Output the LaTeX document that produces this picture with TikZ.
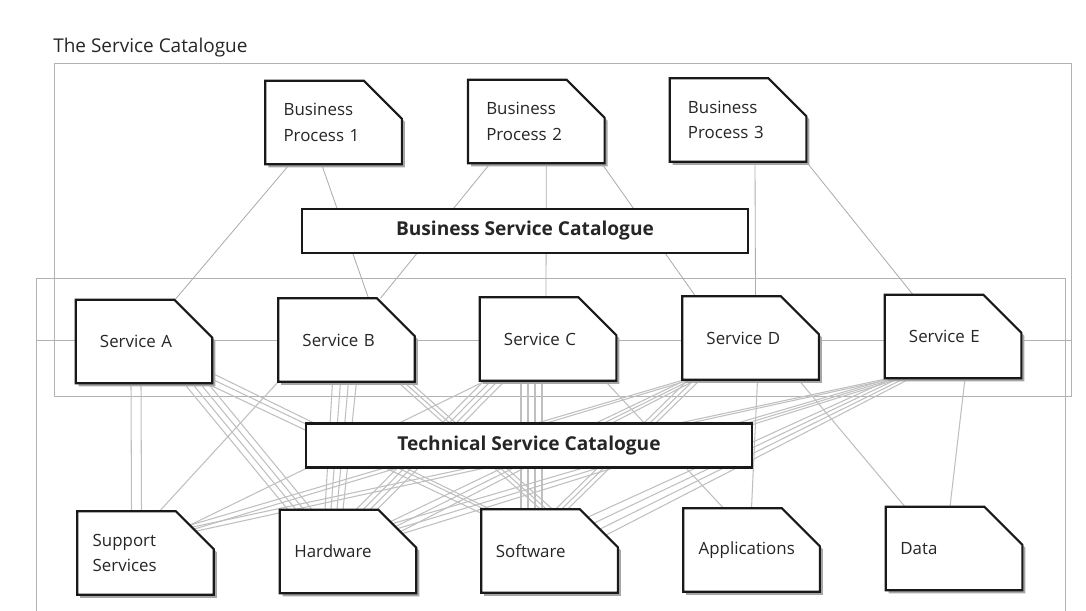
\documentclass[tikz,border=0pt]{standalone}
\usepackage{fontspec}
\setmainfont{Open Sans}
\usepackage{tikz}
\usetikzlibrary{calc}

\pgfdeclarelayer{bg}
\pgfdeclarelayer{shapes}
\pgfsetlayers{bg,shapes,main}

\tikzset{
  doc/.style={minimum width=3.4cm, minimum height=2.075cm, inner sep=0pt, inner xsep=0.45cm,
    text width=2.5cm, align=left, font=\fontsize{12}{18}\selectfont, text=black!85},
  svc/.style={doc, inner xsep=0.6cm, text width=2.2cm},
  catbox/.style={draw=black!90, line width=1.6pt, fill=white, minimum width=11.15cm,
    minimum height=1.1cm, font=\bfseries\fontsize{13.6}{16}\selectfont, text=black!85},
  bizlink/.style={black!32, line width=0.6pt},
  techlink/.style={black!25, line width=0.75pt},
  frame/.style={black!30, line width=0.5pt},
}

\begin{document}
\begin{tikzpicture}[x=0.025cm, y=-0.025cm]
    \useasboundingbox (0,0) rectangle (1086,611);

    \node[anchor=base west, inner xsep=0pt, font=\fontsize{13.5}{16}\selectfont, text=black!85] (title) at (53,53) {The Service Catalogue};

    % business processes
    \node[doc] (bp1) at (333.6,122.5) {Business\\Process 1};
    \node[doc] (bp2) at (536.3,121.5) {Business\\Process 2};
    \node[doc] (bp3) at (738,120) {Business\\Process 3};

    % services
    \node[svc] (sa) at (144,341.5) {Service A};
    \node[svc] (sb) at (346.5,340) {Service B};
    \node[svc] (sc) at (548,339) {Service C};
    \node[svc] (sd) at (750.5,338) {Service D};
    \node[svc] (se) at (953,336.5) {Service E};

    % technical components
    \node[doc, inner xsep=0.38cm, text width=2.64cm] (ss) at (145.5,553) {Support\\Services};
    \node[doc, inner xsep=0.36cm, text width=2.68cm] (hw) at (348,551.5) {Hardware};
    \node[doc, inner xsep=0.36cm, text width=2.68cm] (sw) at (549.5,551) {Software};
    \node[doc, inner xsep=0.38cm, text width=2.64cm] (ap) at (751.5,550) {Applications};
    \node[doc, inner xsep=0.36cm, text width=2.68cm] (da) at (954,548.5) {Data};

    \node[catbox] (bsc) at (525,231) {Business Service Catalogue};
    \node[catbox] (tsc) at (529,445.5) {Technical Service Catalogue};

    % cut-corner outlines with shadow
    \begin{pgfonlayer}{shapes}
    \foreach \n in {bp1,bp2,bp3,sa,sb,sc,sd,se,ss,hw,sw,ap,da} {
        \fill[black!35, transform canvas={shift={(3,3)}}] (\n.north west) -- ([xshift=-0.95cm]\n.north east)
            -- ([yshift=-0.95cm]\n.north east) -- (\n.south east) -- (\n.south west) -- cycle;
        \draw[line width=1.5pt, fill=white, draw=black!90] (\n.north west) -- ([xshift=-0.95cm]\n.north east)
            -- ([yshift=-0.95cm]\n.north east) -- (\n.south east) -- (\n.south west) -- cycle;
    }
    \end{pgfonlayer}

    \begin{pgfonlayer}{bg}
    % frames
    \draw[frame] (54,63) rectangle (1071,396);
    \draw[frame] (36,611) -- (36,278) -- (1065,278) -- (1065,611);
    \draw[frame] (36,340) -- (1071,340);

    % processes to services
    \draw[bizlink] ([shift={(-44,0)}]bp1.south) -- ([shift={(31,0)}]sa.north);
    \draw[bizlink] ([shift={(-12,0)}]bp1.south) -- ([shift={(22,0)}]sb.north);
    \draw[bizlink] ([shift={(-46,0)}]bp2.south) -- ([shift={(34,0)}]sb.north);
    \draw[bizlink] ([shift={(10,0)}]bp2.south) -- ([shift={(-2,0)}]sc.north);
    \draw[bizlink] ([shift={(-3,0)}]bp2.south east) -- ([shift={(-55,0)}]sd.north);
    \draw[bizlink] ([shift={(17,0)}]bp3.south) -- ([shift={(5,0)}]sd.north);
    \draw[bizlink] (bp3.south east) -- ([shift={(-40,0)}]se.north);

    % services to technical components
    \foreach \d in {0,10}
        \draw[techlink] ([shift={(-13+\d,0)}]sa.south) -- ([shift={(-14+\d,0)}]ss.north);
    \foreach \d in {0,8,16,24}
        \draw[techlink] ([shift={(40+\d,0)}]sa.south) -- ([shift={(-60+\d,0)}]hw.north);
    \draw[techlink] ([shift={(-6,0)}]sa.south east) -- ([shift={(0,4)}]sw.north west);
    \draw[techlink] ([shift={(0,-4)}]sa.south east) -- ([shift={(3,0)}]sw.north west);
    \draw[techlink] ([shift={(0,-10)}]sa.south east) -- ([shift={(9,0)}]sw.north west);

    \draw[techlink] (sb.south west) -- ([shift={(14,0)}]ss.north);
    \foreach \d in {0,8,16,24}
        \draw[techlink] ([shift={(-14+\d,0)}]sb.south) -- ([shift={(-23+0.75*\d,0)}]hw.north);
    \foreach \d in {0,6,12}
        \draw[techlink] ([shift={(51+\d,0)}]sb.south) -- ([shift={(-9+\d,0)}]sw.north);

    \foreach \d in {0,7,14,21}
        \draw[techlink] ([shift={(-64+\d,0)}]sc.south) -- ([shift={(8+\d,0)}]hw.north);
    \foreach \d in {0,7,14,21}
        \draw[techlink] ([shift={(-27+\d,0)}]sc.south) -- ([shift={(-28.5+\d,0)}]sw.north);
    \draw[techlink] ([shift={(57,0)}]sc.south) -- ([shift={(-28,0)}]ap.north);

    \foreach \d in {0,6,12}
        \draw[techlink] ([shift={(6+\d,0)}]sd.south west) -- ([shift={(6+\d,0)}]sw.north);
    \draw[techlink] ([shift={(7,0)}]sd.south) -- (ap.north);
    \draw[techlink] ([shift={(48,0)}]sd.south) -- ([shift={(-49,0)}]da.north);
    \draw[techlink] ([shift={(12,0)}]se.south) -- ([shift={(-4,0)}]da.north);

    % fans from the cut corners
    \coordinate (ssk) at ([shift={(-24,14)}]ss.north east);
    \coordinate (hwk) at ([shift={(-26,12)}]hw.north east);
    \coordinate (swk) at ([shift={(-30,8)}]sw.north east);
    \draw[techlink] (ssk) -- ([shift={(6,0)}]sc.south west);
    \foreach \d in {0,4} {
        \draw[techlink] ([shift={(\d,\d)}]ssk) -- ([shift={(2+1.5*\d,0)}]sd.south west);
        \draw[techlink] ([shift={(2+\d,2+\d)}]ssk) -- ([shift={(4+1.5*\d,0)}]se.south west);
    }
    \foreach \d in {0,5,10} {
        \draw[techlink] ([shift={(\d,\d)}]hwk) -- ([shift={(4+\d,0)}]sd.south west);
        \draw[techlink] ([shift={(2+\d,2+\d)}]hwk) -- ([shift={(6+\d,0)}]se.south west);
    }
    \foreach \d in {0,6,12,18}
        \draw[techlink] ([shift={(\d,\d)}]swk) -- ([shift={(8+\d,0)}]se.south west);
    \end{pgfonlayer}
\end{tikzpicture}
\end{document}
